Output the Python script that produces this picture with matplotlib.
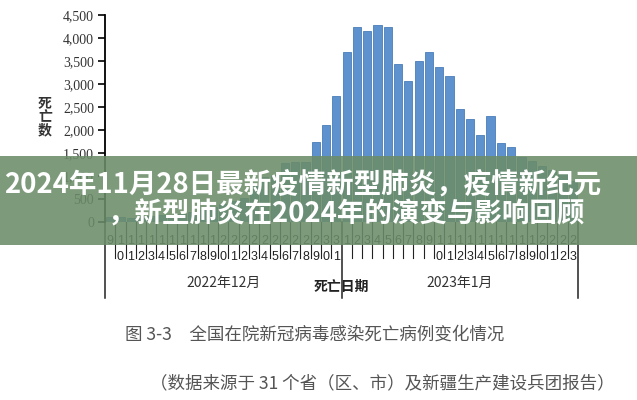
import matplotlib
matplotlib.use('Agg')
import matplotlib.pyplot as plt
from matplotlib import transforms
from matplotlib.patches import Rectangle
import numpy as np

plt.rcParams['font.family'] = ['Noto Sans CJK SC', 'DejaVu Sans']

# data: daily in-hospital deaths, 2022-12-09 .. 2023-01-23
dec_days = list(range(9, 32))
jan_days = list(range(1, 24))
deaths = [100, 110, 90, 130, 140, 160, 150, 180, 220, 270,
          330, 380, 450, 520, 780, 980, 1020, 1290, 1300, 1300,
          1730, 2110, 2740, 3700, 4240, 4150, 4270, 4240, 3440, 3070,
          3500, 3700, 3370, 3170, 2460, 2240, 1890, 2300, 1720, 1630,
          1410, 1330, 1210, 1130, 1050, 900]
months = ['2022年12月', '2023年1月']
yticks = [0, 500, 1000, 1500, 2000, 2500, 3000, 3500, 4000, 4500]

W, H = 637, 400
fig = plt.figure(figsize=(W / 100, H / 100), dpi=100)
fig.patch.set_facecolor('white')

def fy(py):
    return 1 - py / H

ax = fig.add_axes([105 / W, fy(222), 473 / W, (222 - 14.7) / H])
x = np.arange(len(deaths))
ax.bar(x, deaths, width=0.8, color='#5e92cf', edgecolor='#4a7db9', linewidth=0.6)
ax.set_xlim(-0.5, len(deaths) - 0.5)
ax.set_ylim(0, 4500)
ax.set_yticks(yticks)
ax.set_yticklabels([f'{v:,}' for v in yticks], family='Liberation Serif',
                   fontsize=10, color='#333333')
ax.tick_params(axis='y', direction='out', length=5, width=1.2, color='black', pad=3)
ax.set_xticks([])
for s in ['top', 'right', 'bottom']:
    ax.spines[s].set_visible(False)
ax.spines['left'].set_linewidth(1.3)

fig.text(45 / W, fy(117), '死\n亡\n数', ha='center', va='center', fontsize=10,
         fontweight='bold', color='#333333', linespacing=0.95)

# multi-level category axis drawn below
tr = transforms.blended_transform_factory(ax.transData, fig.transFigure)
days = dec_days + jan_days
for i in range(len(days) + 1):
    xb = i - 0.5
    long = i in (0, len(dec_days), len(days))
    ax.plot([xb, xb], [fy(222), fy(298 if long else 258)], transform=tr,
            color='#222222', lw=1.1 if long else 0.8, clip_on=False)
for i, d in enumerate(days):
    s = str(d)
    for k, ch in enumerate(s):
        ax.text(i, fy(241 + 15.5 * k), ch, transform=tr, ha='center', va='center',
                fontsize=9, family='Liberation Sans', color='#222222')

ax.text((len(dec_days) - 1) / 2, fy(283), months[0], transform=tr, ha='center',
        va='center', fontsize=10, color='#333333')
ax.text(len(dec_days) + (len(jan_days) - 1) / 2, fy(283), months[1], transform=tr,
        ha='center', va='center', fontsize=10, color='#333333')
ax.text(len(dec_days) - 0.5, fy(287), '死亡日期', transform=tr, ha='center',
        va='center', fontsize=10, fontweight='bold', color='#222222')

# caption
fig.text(125 / W, fy(335), '图 3-3　全国在院新冠病毒感染死亡病例变化情况', ha='left',
         va='center', fontsize=12.6, color='#555555')
fig.text(150 / W, fy(383), '（数据来源于 31 个省（区、市）及新疆生产建设兵团报告）', ha='left',
         va='center', fontsize=12.6, color='#555555')

# overlay banner
fig.patches.append(Rectangle((0, fy(245)), 1, (245 - 156) / H, transform=fig.transFigure,
                             facecolor='#6b8d69', alpha=0.88, edgecolor='none', zorder=10))
fig.text(4 / W, fy(185), '2024年11月28日最新疫情新型肺炎，疫情新纪元', ha='left',
         va='center', fontsize=19.8, fontweight='bold', color='white', zorder=11)
fig.text(108 / W, fy(214), '，新型肺炎在2024年的演变与影响回顾', ha='left',
         va='center', fontsize=19.8, fontweight='bold', color='white', zorder=11)

fig.savefig('out.png', dpi=100)
